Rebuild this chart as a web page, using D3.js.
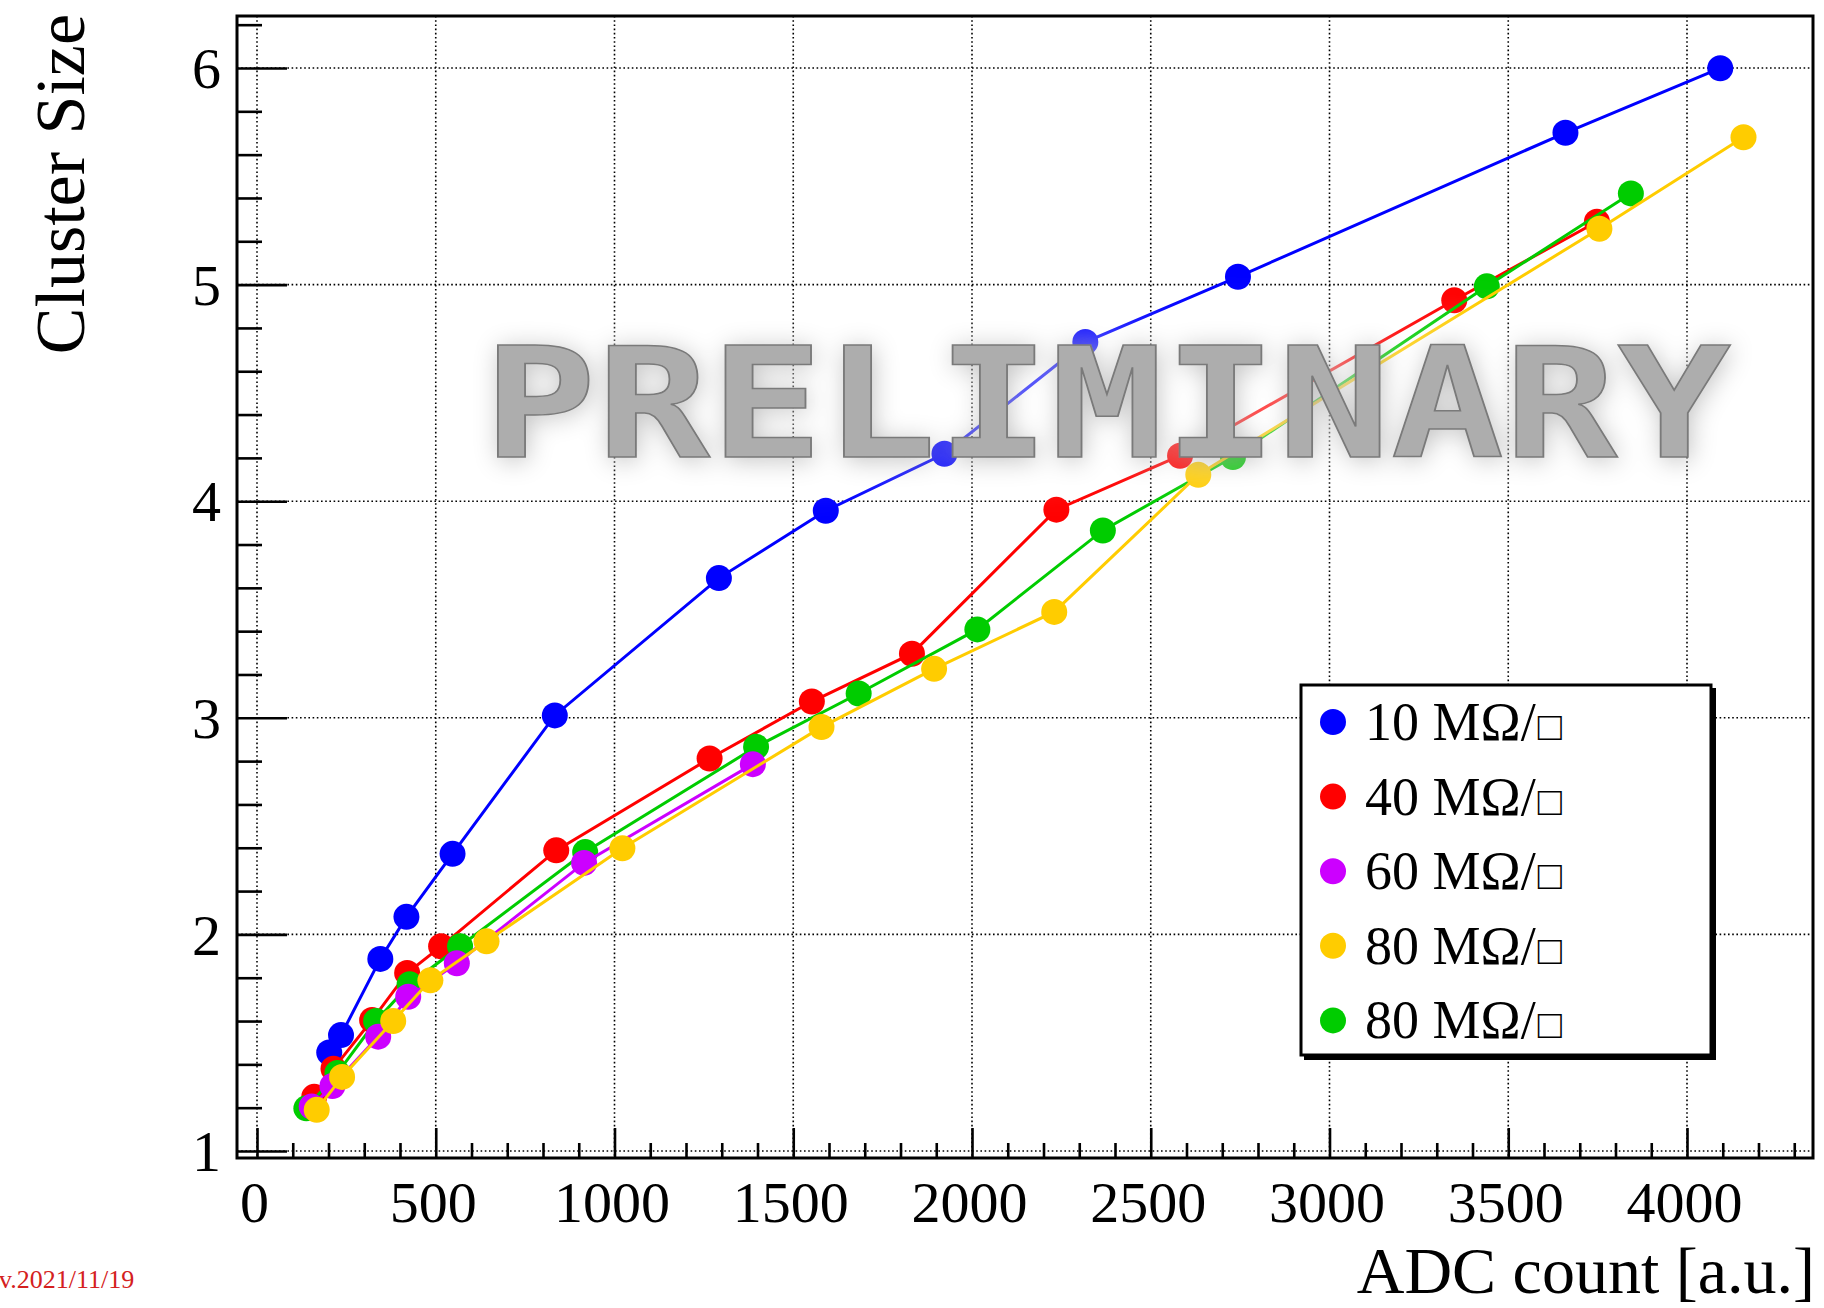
<!DOCTYPE html>
<html>
<head>
<meta charset="utf-8">
<script src="https://cdn.jsdelivr.net/npm/d3@7"></script>
<style>
  body { margin: 0; background: #fff; }
  svg { display: block; }
</style>
</head>
<body>
<div id="chart"></div>
<script>
// ADC count vs cluster size, one series per sheet resistivity
var seriesNames = ['10 MΩ/', '40 MΩ/', '60 MΩ/', '80 MΩ/', '80 MΩ/'];
var seriesColors = ['#0000ff', '#ff0000', '#cc00ff', '#ffcc00', '#00cc00'];

var blueX = [202, 235, 345, 418, 547, 833, 1292, 1591, 1923, 2317, 2744, 3660, 4093];
var blueY = [1.455, 1.535, 1.887, 2.081, 2.372, 3.011, 3.645, 3.956, 4.219, 4.735, 5.036, 5.701, 5.999];

var redX = [160, 214, 322, 420, 515, 837, 1266, 1552, 1832, 2236, 2582, 3349, 3748];
var redY = [1.25, 1.38, 1.605, 1.822, 1.945, 2.388, 2.812, 3.075, 3.296, 3.961, 4.21, 4.928, 5.29];

var purpleX = [153, 211, 339, 423, 559, 915, 1387];
var purpleY = [1.205, 1.30, 1.528, 1.712, 1.867, 2.33, 2.786];

var yellowX = [167, 238, 381, 485, 642, 1022, 1579, 1894, 2230, 2633, 3755, 4158];
var yellowY = [1.19, 1.342, 1.60, 1.788, 1.968, 2.398, 2.957, 3.226, 3.489, 4.122, 5.258, 5.68];

var greenX = [138, 225, 333, 427, 568, 918, 1396, 1683, 2015, 2366, 2730, 3440, 3843];
var greenY = [1.197, 1.36, 1.60, 1.77, 1.945, 2.38, 2.866, 3.112, 3.408, 3.865, 4.204, 4.992, 5.421];

var xMajor = [0, 500, 1000, 1500, 2000, 2500, 3000, 3500, 4000];
var yMajor = [1, 2, 3, 4, 5, 6];

var width = 1824, height = 1308;
var frame = {left: 237, right: 1813, top: 16, bottom: 1158};

var x = d3.scaleLinear().domain([0, 4000]).range([257, 1687]);
var y = d3.scaleLinear().domain([1, 6]).range([1151, 68]);

var xMinor = d3.range(0, 4400, 100).filter(function(v) { return v % 500 != 0; });
var yMinor = d3.range(10, 63, 2).map(function(v) { return v / 10; })
    .filter(function(v) { return v % 1 != 0; });

var svg = d3.select('#chart').append('svg')
    .attr('width', width)
    .attr('height', height);

svg.append('rect').attr('width', width).attr('height', height).attr('fill', '#fff');

// dotted grid
var grid = svg.append('g')
    .attr('stroke', '#000')
    .attr('stroke-width', 1.6)
    .attr('stroke-dasharray', '1.6,2.6');
grid.selectAll('.gx').data(xMajor).enter().append('line')
    .attr('x1', function(d) { return x(d); })
    .attr('x2', function(d) { return x(d); })
    .attr('y1', frame.top).attr('y2', frame.bottom);
grid.selectAll('.gy').data(yMajor).enter().append('line')
    .attr('y1', function(d) { return y(d); })
    .attr('y2', function(d) { return y(d); })
    .attr('x1', frame.left).attr('x2', frame.right);

// series, drawn one graph at a time (line then markers)
var series = [
  {name: seriesNames[0], color: seriesColors[0], xs: blueX, ys: blueY},
  {name: seriesNames[1], color: seriesColors[1], xs: redX, ys: redY},
  {name: seriesNames[2], color: seriesColors[2], xs: purpleX, ys: purpleY},
  {name: seriesNames[3], color: seriesColors[3], xs: yellowX, ys: yellowY},
  {name: seriesNames[4], color: seriesColors[4], xs: greenX, ys: greenY}
];
var drawOrder = [0, 1, 4, 2, 3];

var line = d3.line()
    .x(function(d) { return x(d[0]); })
    .y(function(d) { return y(d[1]); });

drawOrder.forEach(function(i) {
  var s = series[i];
  var pts = s.xs.map(function(v, k) { return [v, s.ys[k]]; });
  var g = svg.append('g');
  g.append('path')
      .attr('d', line(pts))
      .attr('fill', 'none')
      .attr('stroke', s.color)
      .attr('stroke-width', 3);
  g.selectAll('circle').data(pts).enter().append('circle')
      .attr('cx', function(d) { return x(d[0]); })
      .attr('cy', function(d) { return y(d[1]); })
      .attr('r', 13)
      .attr('fill', s.color);
});

// frame
svg.append('rect')
    .attr('x', frame.left).attr('y', frame.top)
    .attr('width', frame.right - frame.left)
    .attr('height', frame.bottom - frame.top)
    .attr('fill', 'none')
    .attr('stroke', '#000')
    .attr('stroke-width', 3);

// axes (ticks point inwards)
var font = '"Liberation Serif", "Times New Roman", serif';

var yAxis = svg.append('g')
    .attr('transform', 'translate(' + frame.left + ',0)')
    .call(d3.axisLeft(y).tickValues(yMajor).tickSize(-50).tickSizeOuter(0).tickPadding(16)
      .tickFormat(d3.format('d')));
svg.append('g')
    .attr('transform', 'translate(' + frame.left + ',0)')
    .call(d3.axisLeft(y).tickValues(yMinor).tickSize(-25).tickSizeOuter(0).tickFormat(''))
    .call(function(g) { g.select('.domain').remove(); });

var xAxis = svg.append('g')
    .attr('transform', 'translate(0,' + frame.bottom + ')')
    .call(d3.axisBottom(x).tickValues(xMajor).tickSize(-30).tickSizeOuter(0)
      .tickFormat(d3.format('d')));
svg.append('g')
    .attr('transform', 'translate(0,' + frame.bottom + ')')
    .call(d3.axisBottom(x).tickValues(xMinor).tickSize(-15).tickSizeOuter(0).tickFormat(''))
    .call(function(g) { g.select('.domain').remove(); });

svg.selectAll('.tick line').attr('stroke', '#000').attr('stroke-width', 2.6);
[xAxis, yAxis].forEach(function(a) {
  a.select('.domain').remove();
  a.attr('font-family', font).attr('font-size', 58);
  a.selectAll('text').attr('fill', '#000');
});
yAxis.selectAll('text').attr('dy', '0.34em');
xAxis.selectAll('text').attr('dy', null).attr('y', 64).attr('dx', -3);

// axis titles
svg.append('text')
    .attr('x', 1815).attr('y', 1293)
    .attr('text-anchor', 'end')
    .attr('font-family', font).attr('font-size', 66)
    .text('ADC count [a.u.]');

svg.append('text')
    .attr('transform', 'translate(84,14) rotate(-90)')
    .attr('text-anchor', 'end')
    .attr('font-family', font).attr('font-size', 70)
    .text('Cluster Size');

// legend
var legend = svg.append('g');
legend.append('rect')
    .attr('x', 1304).attr('y', 688).attr('width', 412).attr('height', 372)
    .attr('fill', '#000');
legend.append('rect')
    .attr('x', 1301).attr('y', 685).attr('width', 410).attr('height', 370)
    .attr('fill', '#fff').attr('stroke', '#000').attr('stroke-width', 3);

var entry = legend.selectAll('.entry').data(series).enter().append('g')
    .attr('transform', function(d, i) { return 'translate(1333,' + (722 + i * 74.6) + ')'; });
entry.append('circle').attr('r', 13).attr('fill', function(d) { return d.color; });
var label = entry.append('text')
    .attr('x', 32).attr('y', 18)
    .attr('font-family', font).attr('font-size', 54);
label.append('tspan').text(function(d) { return d.name; });
label.append('tspan')
    .attr('font-size', 40)
    .attr('font-weight', 'bold')
    .attr('dx', 2)
    .text('□');

// date stamp
svg.append('text')
    .attr('x', -1).attr('y', 1288)
    .attr('font-family', font).attr('font-size', 26)
    .attr('fill', '#d42020')
    .text('v.2021/11/19');

// PRELIMINARY watermark
var defs = svg.append('defs');
var f = defs.append('filter').attr('id', 'wm')
    .attr('x', '-20%').attr('y', '-60%').attr('width', '140%').attr('height', '220%');
f.append('feGaussianBlur').attr('in', 'SourceAlpha').attr('stdDeviation', 28).attr('result', 'b1');
f.append('feFlood').attr('flood-color', '#fff').attr('flood-opacity', 0.85).attr('result', 'c1');
f.append('feComposite').attr('in', 'c1').attr('in2', 'b1').attr('operator', 'in').attr('result', 'haze');
f.append('feGaussianBlur').attr('in', 'SourceAlpha').attr('stdDeviation', 13).attr('result', 'b2');
f.append('feOffset').attr('in', 'b2').attr('dx', 2).attr('dy', 3).attr('result', 'o2');
f.append('feFlood').attr('flood-color', '#000').attr('flood-opacity', 0.45).attr('result', 'c2');
f.append('feComposite').attr('in', 'c2').attr('in2', 'o2').attr('operator', 'in').attr('result', 'shadow');
var m = f.append('feMerge');
m.append('feMergeNode').attr('in', 'haze');
m.append('feMergeNode').attr('in', 'shadow');
m.append('feMergeNode').attr('in', 'SourceGraphic');

svg.append('text')
    .attr('x', 483).attr('y', 457)
    .attr('textLength', 1248)
    .attr('lengthAdjust', 'spacingAndGlyphs')
    .attr('font-family', '"DejaVu Sans Mono", monospace')
    .attr('font-weight', 'bold')
    .attr('font-size', 154)
    .attr('fill', '#adadad')
    .attr('stroke', '#7a7a7a')
    .attr('stroke-width', 1.5)
    .attr('filter', 'url(#wm)')
    .text('PRELIMINARY');
</script>
</body>
</html>
